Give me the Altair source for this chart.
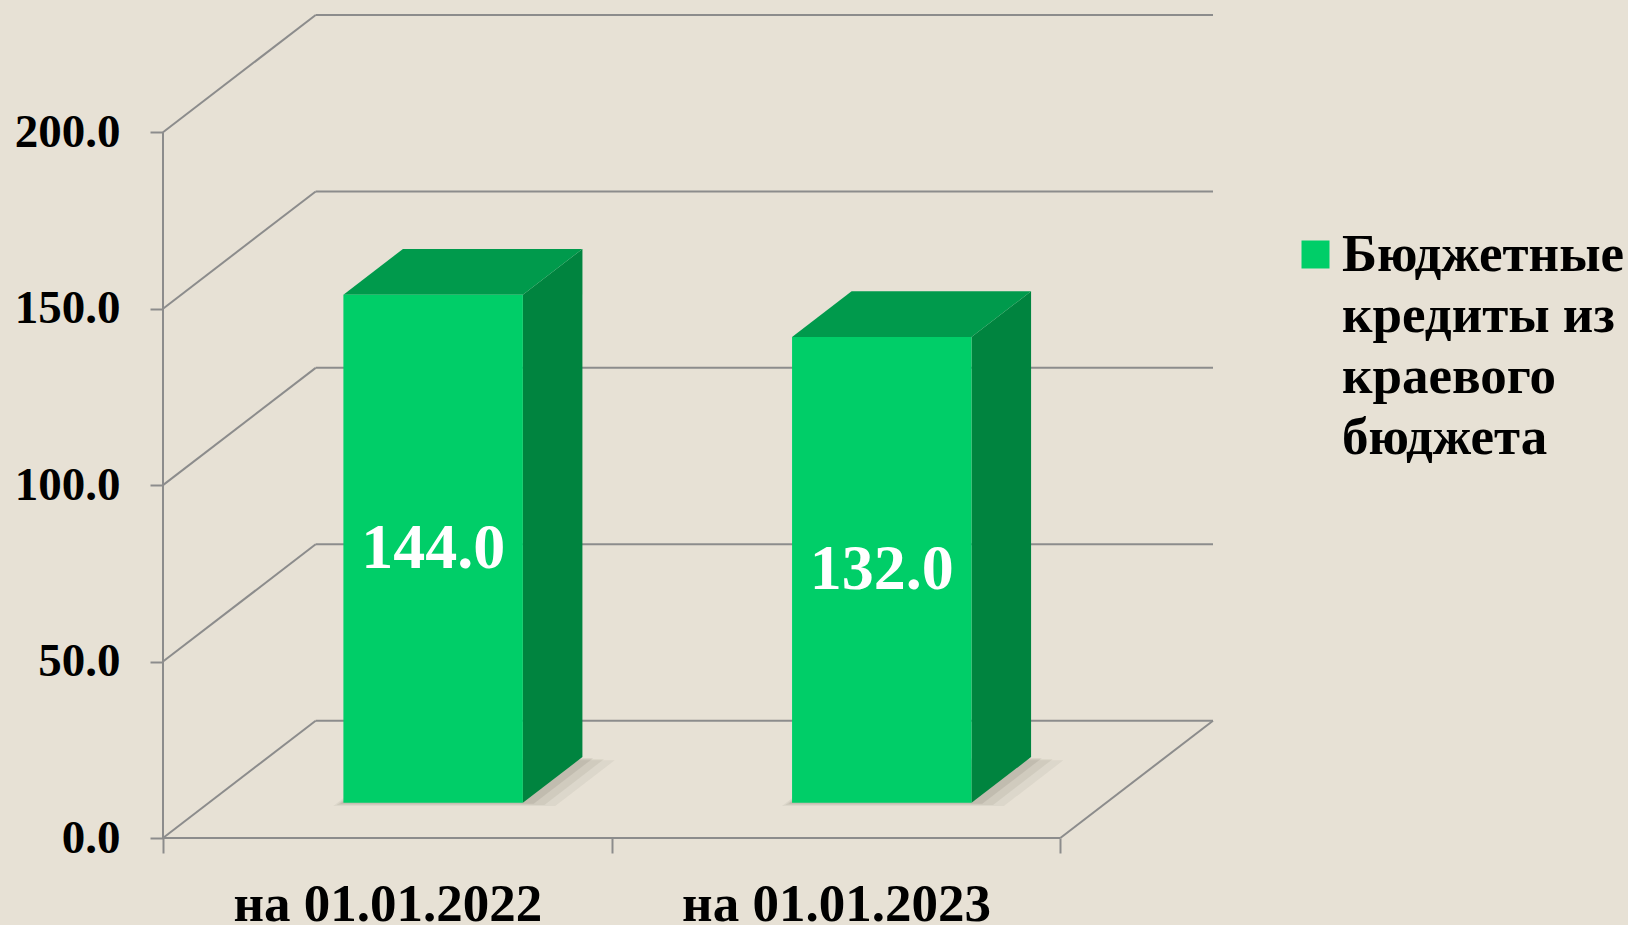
import altair as alt
import pandas as pd

# ---------------- data ----------------
CATEGORIES = ["на 01.01.2022", "на 01.01.2023"]
VALUES = [144.0, 132.0]
SERIES_LINES = ["Бюджетные", "кредиты из", "краевого", "бюджета"]
Y_TICKS = [0, 50, 100, 150, 200]

# ---------------- style / geometry ----------------
FONT = "Liberation Serif"
BG = "#E7E1D5"
GRID = "#8C8C8C"
FRONT = "#00CE68"
TOP = "#009A4C"
SIDE = "#00843F"
SHADOW = "#5A5448"

N = len(CATEGORIES)
DX = 0.3403          # depth of the 3-D box, in x units
DY = 33.24           # depth of the 3-D box, in y units
F0, F1 = 0.3, 0.69   # bar depth (front / back) as a fraction of box depth
HW = 0.2             # half width of a bar, in x units
XMAX = N + DX
YMAX = max(Y_TICKS) + DY

SERIES = "|".join(SERIES_LINES)

xs = alt.Scale(domain=[0, XMAX], nice=False, zero=False)
ys = alt.Scale(domain=[0, YMAX], nice=False, zero=False)

label_expr = "".join(
    f"datum.value === {i + 0.5} ? '{c}' : " for i, c in enumerate(CATEGORIES)
) + "''"

X_AXIS = alt.Axis(
    values=[k / 2 for k in range(2 * N + 1)],
    labelExpr=label_expr,
    domain=False, grid=False,
    tickSize=15, tickWidth=2, tickColor=GRID,
    tickOpacity={"condition": {"test": "datum.value % 1 === 0", "value": 1}, "value": 0},
    labelFont=FONT, labelFontSize=53, labelFontWeight="bold", labelColor="black",
    labelPadding=25, labelOverlap=False, labelFlush=False, labelLimit=0, title=None,
)
Y_AXIS = alt.Axis(
    values=Y_TICKS, format=".1f",
    domain=False, grid=False,
    tickSize=13, tickWidth=2, tickColor=GRID,
    labelFont=FONT, labelFontSize=47, labelFontWeight="bold", labelColor="black",
    labelPadding=30, labelLimit=0, title=None,
)


def X(f):
    return alt.X(f, type="quantitative", scale=xs, axis=X_AXIS)


def Y(f):
    return alt.Y(f, type="quantitative", scale=ys, axis=Y_AXIS, stack=None)


# ---------------- tables ----------------
grid_df = pd.DataFrame({"v": Y_TICKS})

bars_df = pd.DataFrame({
    "cat": CATEGORIES,
    "value": VALUES,
    "c": [i + 0.5 for i in range(N)],
    "series": [SERIES] * N,
})

depth_df = pd.DataFrame([
    {"cat": c, "value": v, "c": i + 0.5, "f": f}
    for i, (c, v) in enumerate(zip(CATEGORIES, VALUES)) for f in (F0, F1)
])

frame_df = pd.DataFrame([
    {"x": 0, "y": 0, "x2": N, "y2": 0},                   # front floor edge
    {"x": 0, "y": 0, "x2": 0, "y2": max(Y_TICKS)},        # front vertical axis
    {"x": N, "y": 0, "x2": N + DX, "y2": DY},             # right floor edge
])

# ---------------- layers ----------------
back_lines = alt.Chart(grid_df).transform_calculate(
    gx0=f"{DX}", gx1=f"{N + DX}", gy=f"datum.v + {DY}"
).mark_rule(color=GRID, strokeWidth=2).encode(
    x=X("gx0"), x2="gx1", y=Y("gy")
)

side_lines = alt.Chart(grid_df).transform_calculate(
    lx0="0", lx1=f"{DX}", ly1=f"datum.v + {DY}"
).mark_rule(color=GRID, strokeWidth=2).encode(
    x=X("lx0"), x2="lx1", y=Y("v"), y2="ly1"
)

frame = alt.Chart(frame_df).mark_rule(color=GRID, strokeWidth=2).encode(
    x=X("x"), x2="x2", y=Y("y"), y2="y2"
)

# soft floor shadows (three faint, growing layers)
shadow_layers = []
for grow, op in [(0.045, 0.07), (0.03, 0.09), (0.015, 0.12)]:
    shadow_layers.append(
        alt.Chart(depth_df).transform_calculate(
            hx0=f"datum.c - {HW} - {grow * 0.5} + datum.f * {DX}",
            hx1=f"datum.c + {HW} + {grow * 1.6} + datum.f * {DX}",
            hy=f"(datum.f - {grow * 0.6}) * {DY}",
        ).mark_area(color=SHADOW, opacity=op, orient="horizontal").encode(
            y=Y("hy"), x=X("hx0"), x2="hx1", detail="cat:N"
        )
    )

side = alt.Chart(depth_df).transform_calculate(
    sx=f"datum.c + {HW} + datum.f * {DX}",
    sy0=f"datum.f * {DY}",
    sy1=f"datum.value + datum.f * {DY}",
).mark_area(color=SIDE, opacity=1).encode(
    x=X("sx"), y=Y("sy0"), y2="sy1", detail="cat:N"
)

top = alt.Chart(depth_df).transform_calculate(
    tx0=f"datum.c - {HW} + datum.f * {DX}",
    tx1=f"datum.c + {HW} + datum.f * {DX}",
    ty=f"datum.value + datum.f * {DY}",
).mark_area(color=TOP, opacity=1, orient="horizontal").encode(
    y=Y("ty"), x=X("tx0"), x2="tx1", detail="cat:N"
)

front = alt.Chart(bars_df).transform_calculate(
    fx0=f"datum.c - {HW} + {F0 * DX}",
    fx1=f"datum.c + {HW} + {F0 * DX}",
    fy0=f"{F0 * DY}",
    fy1=f"datum.value + {F0 * DY}",
).mark_rect().encode(
    x=X("fx0"), x2="fx1", y=Y("fy0"), y2="fy1",
    color=alt.Color(
        "series:N",
        scale=alt.Scale(domain=[SERIES], range=[FRONT]),
        legend=alt.Legend(
            title=None, orient="none", legendX=1126, legendY=213, padding=0,
            symbolType="square", symbolSize=784, symbolStrokeWidth=0,
            labelExpr="split(datum.label, '|')",
            labelFont=FONT, labelFontSize=53, labelFontWeight="bold",
            labelColor="black", labelLimit=0, labelOffset=0,
        ),
    ),
)

labels = alt.Chart(bars_df).transform_calculate(
    lx=f"datum.c + {F0 * DX}",
    ly=f"datum.value / 2 + {F0 * DY}",
).mark_text(
    font=FONT, fontSize=64, fontWeight="bold", color="white",
    align="center", baseline="middle",
).encode(
    x=X("lx"), y=Y("ly"), text=alt.Text("value:Q", format=".1f")
)

chart = alt.layer(
    back_lines, side_lines, frame, *shadow_layers, side, top, front, labels
).properties(
    width=1050, height=823,
    autosize=alt.AutoSizeParams(type="none"),
    padding={"left": 163, "top": 15, "right": 415, "bottom": 87},
).configure(
    background=BG,
    style={"guide-label": {"lineHeight": 61}},
).configure_view(strokeWidth=0)

chart.save("out.html", embed_options={"renderer": "svg", "actions": False})
